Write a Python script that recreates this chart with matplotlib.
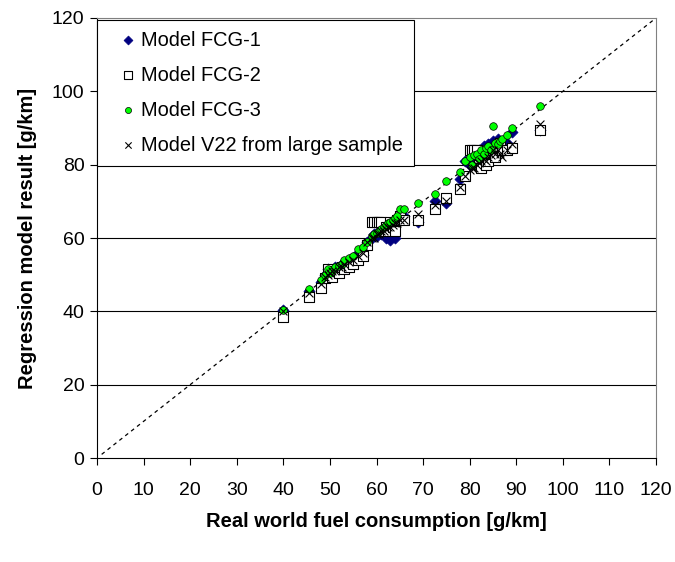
import matplotlib
matplotlib.use("Agg")
import matplotlib.pyplot as plt

plt.rcParams['font.family'] = ['Liberation Sans', 'DejaVu Sans']

x_real = [40, 45.5, 48, 49, 49.5, 50, 50.5, 51, 52, 52.5, 53, 54, 55, 56, 57, 58,
          59, 59.5, 60, 60.5, 61, 61.5, 62, 62.5, 63, 63.5, 64, 64.5, 65, 66,
          69, 72.5, 75, 78, 79, 80, 80.5, 81, 81.5, 82, 82.5, 83, 83.5, 84, 84.5,
          85, 85.5, 86, 86.5, 87, 88, 89, 95]

fcg1 = [40.5, 45.5, 48, 50, 51.5, 50.5, 51, 52, 51.5, 53, 52.5, 54, 54.5, 56, 55.5, 59,
        60, 61, 60.5, 62, 61, 62.5, 60, 63, 59.5, 64, 60, 64.5, 65, 66,
        64.5, 70, 69.5, 76, 81, 80, 82, 83, 82, 84, 81.5, 85, 83, 85.5, 84,
        86.5, 85, 87, 85.5, 86, 86, 89, 89.5]

fcg2 = [38.5, 44, 46.5, 49, 51.5, 50, 49.5, 51, 50.5, 52, 51.5, 52, 53, 54, 55, 58,
        64.5, 64.5, 64.5, 64.5, 64.5, 62, 63, 62, 64.5, 63, 62, 65, 66, 65,
        65, 68, 71, 73.5, 77, 84, 84, 84, 84, 80, 79, 82, 80, 81, 83,
        84, 82, 85, 86, 84, 84, 84.5, 89.5]

fcg3 = [40.5, 46, 48.5, 50, 51.5, 50.5, 51, 52, 52.5, 53, 54, 54.5, 55, 57, 57.5, 59,
        60.5, 61, 61.5, 62, 62.5, 63, 63.5, 64, 64.5, 65, 65.5, 66, 68, 68,
        69.5, 72, 75.5, 78, 81, 82, 80, 82.5, 83, 81.5, 84, 83, 84.5, 85, 84,
        90.5, 86, 85.5, 86.5, 87, 88, 90, 96]

v22 = [40, 45, 47.5, 49.5, 50, 50.5, 51, 51, 52, 52, 53, 53.5, 54, 55, 56, 59,
       60, 60, 61, 61, 62, 62, 62.5, 63, 63, 63.5, 64, 64, 65, 65,
       66.5, 69, 70, 74, 77, 78.5, 79, 79, 80, 80.5, 81, 81.5, 81, 82, 82.5,
       84, 83, 84, 83, 82, 84, 85.5, 91]

labels = ["Model FCG-1", "Model FCG-2", "Model FCG-3", "Model V22 from large sample"]
ticks = list(range(0, 121, 10))
yticks = list(range(0, 121, 20))

fig = plt.figure(figsize=(6.75, 5.62), dpi=100)
ax = fig.add_axes([0.1437, 0.185, 0.8282, 0.783])

ax.plot([1, 120], [1, 120], linestyle=(0, (3, 3)), color='black', lw=0.9, zorder=1)

ax.scatter(x_real, fcg1, marker='D', s=32, color='#000080', edgecolors='#000080',
           linewidths=0.5, label=labels[0], zorder=3)
ax.scatter(x_real, fcg2, marker='s', s=45, facecolors='white', edgecolors='black',
           linewidths=0.8, label=labels[1], zorder=4)
ax.scatter(x_real, fcg3, marker='o', s=30, facecolors='#00FF00', edgecolors='black',
           linewidths=0.5, label=labels[2], zorder=5)
ax.scatter(x_real, v22, marker='x', s=32, color='black', linewidths=0.8,
           label=labels[3], zorder=6)

ax.set_xlim(0, 120)
ax.set_ylim(0, 120)
ax.set_xticks(ticks)
ax.set_yticks(yticks)
for yv in yticks[1:-1]:
    ax.axhline(yv, color='black', lw=0.8, zorder=0)

ax.tick_params(axis='both', direction='out', length=5, width=0.8, labelsize=14)
ax.tick_params(axis='x', pad=12)
ax.tick_params(axis='y', pad=4)
ax.spines['top'].set_color('#808080')
ax.spines['right'].set_color('#808080')

ax.set_xlabel("Real world fuel consumption [g/km]", fontsize=14.5, fontweight='bold')
ax.set_ylabel("Regression model result [g/km]", fontsize=14.5, fontweight='bold')
ax.xaxis.set_label_coords(0.5, -0.122)
ax.yaxis.set_label_coords(-0.108, 0.5)

leg = ax.legend(loc='upper left', bbox_to_anchor=(0.0, 0.996), fontsize=14.4,
                frameon=True, fancybox=False, edgecolor='black', framealpha=1,
                handletextpad=-0.35, labelspacing=0.8, borderpad=0.55,
                handlelength=2.0, borderaxespad=0, markerscale=0.8)
leg.get_frame().set_linewidth(0.8)
leg.set_zorder(10)

fig.savefig("out.png", dpi=100)
